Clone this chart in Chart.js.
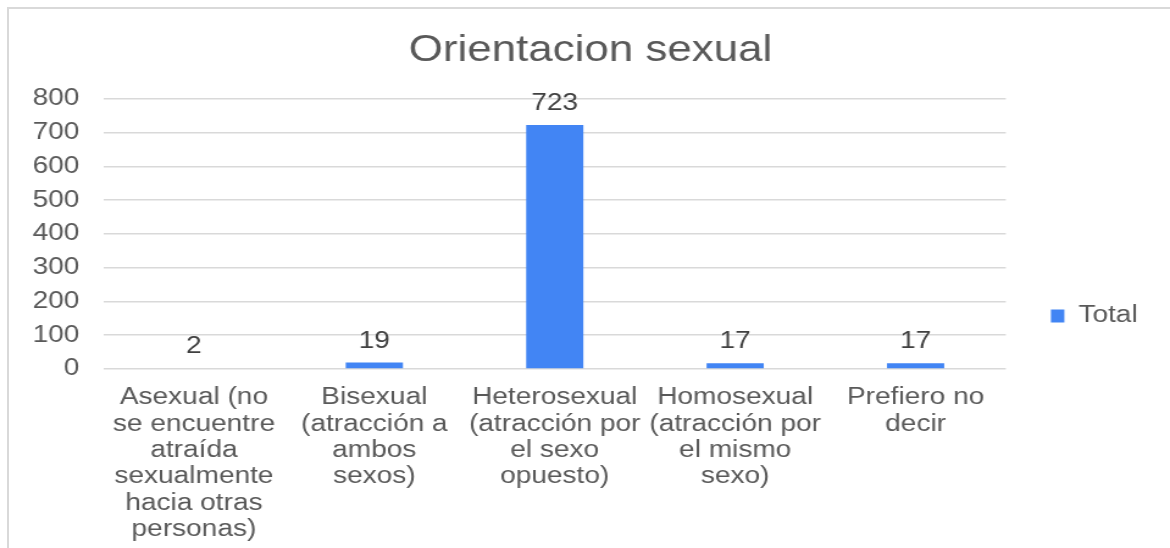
<!DOCTYPE html>
<html>
<head>
<meta charset="utf-8">
<script src="https://cdn.jsdelivr.net/npm/chart.js@4"></script>
<style>
  html, body { margin: 0; padding: 0; background: #fff; overflow: hidden; }
  body { width: 1170px; height: 548px; position: relative; }
  #frame { position: absolute; left: 7px; top: 7px; width: 2000px; height: 2000px; border: 2px solid #d9d9d9; box-sizing: border-box; }
  /* the reference is stretched sideways, so the chart is drawn narrower and widened */
  #wrap { position: absolute; left: 0; top: 0; width: 959px; height: 548px; transform: scaleX(1.22); transform-origin: 0 0; }
</style>
</head>
<body>
<div id="frame"></div>
<div id="wrap"><canvas id="chart"></canvas></div>
<script>
"use strict";
const TITLE = "Orientacion sexual";
const CATEGORIES = [
  ["Asexual (no", "se encuentre", "atraída", "sexualmente", "hacia otras", "personas)"],
  ["Bisexual", "(atracción a", "ambos", "sexos)"],
  ["Heterosexual", "(atracción por", "el sexo", "opuesto)"],
  ["Homosexual", "(atracción por", "el mismo", "sexo)"],
  ["Prefiero no", "decir"],
];
const SERIES_LABEL = "Total";
const TOTALS = [2, 19, 723, 17, 17];
const Y_MIN = 0, Y_MAX = 800, Y_STEP = 100;

const FONT = "'Liberation Sans', Arial, sans-serif";
const GREY = "#595959";

// value labels above each bar
const barValues = {
  id: "barValues",
  afterDatasetsDraw(chart) {
    const ctx = chart.ctx;
    ctx.save();
    ctx.font = `23px ${FONT}`;
    ctx.fillStyle = "#404040";
    ctx.textAlign = "center";
    ctx.textBaseline = "alphabetic";
    chart.getDatasetMeta(0).data.forEach((bar, i) => {
      ctx.fillText(String(chart.data.datasets[0].data[i]), bar.x, bar.y - 15);
    });
    ctx.restore();
  },
};

new Chart(document.getElementById("chart"), {
  type: "bar",
  data: {
    labels: CATEGORIES,
    datasets: [{
      label: SERIES_LABEL,
      data: TOTALS,
      backgroundColor: "#4285F4",
      borderWidth: 0,
      categoryPercentage: 1,
      barPercentage: 0.317,
    }],
  },
  options: {
    responsive: true,
    maintainAspectRatio: false,
    animation: false,
    devicePixelRatio: 1,
    layout: { padding: { left: 25.5, right: 16.5, top: 0, bottom: 0 } },
    scales: {
      x: {
        grid: { display: false, drawTicks: false },
        border: { display: false },
        ticks: { color: GREY, font: { family: FONT, size: 23, lineHeight: 1.15 }, padding: 15.5, autoSkip: false, maxRotation: 0 },
        afterFit: (s) => { s.height = 179; },
      },
      y: {
        min: Y_MIN, max: Y_MAX,
        grid: { color: "#d9d9d9", lineWidth: 1.6, drawTicks: false },
        border: { display: false },
        ticks: { stepSize: Y_STEP, color: GREY, font: { family: FONT, size: 23 }, padding: 20 },
        afterFit: (s) => { s.width = 59.5; },
      },
    },
    plugins: {
      title: {
        display: true, text: TITLE, color: GREY,
        font: { family: FONT, size: 36, weight: "normal" },
        padding: { top: 29, bottom: 26.8 },
      },
      legend: {
        position: "right", align: "start",
        title: { display: true, text: "", font: { size: 12 }, padding: { top: 253, bottom: 0 } },
        labels: { color: GREY, font: { family: FONT, size: 23 }, boxWidth: 11, boxHeight: 13, padding: 37 },
      },
      tooltip: { enabled: false },
    },
  },
  plugins: [barValues],
});
</script>
</body>
</html>
